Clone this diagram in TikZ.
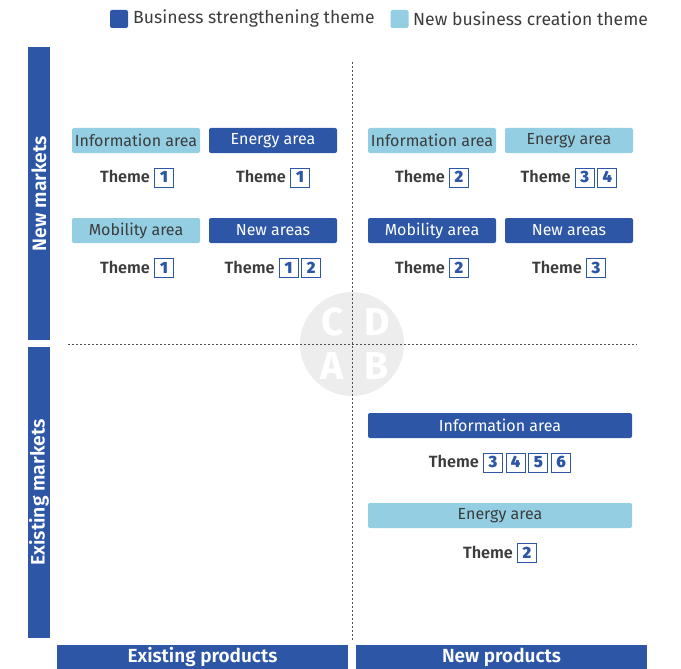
\documentclass[tikz,border=0pt]{standalone}
\usepackage{fontspec}
\setmainfont{Fira Sans}
\newfontfamily\semib{Fira Sans SemiBold}
\newfontfamily\medf{Fira Sans Medium}
\definecolor{dkblue}{HTML}{2D57A6}
\definecolor{ltblue}{HTML}{93CEE2}
\definecolor{txtgray}{HTML}{3C3C3C}
\definecolor{wmgray}{HTML}{EDEDED}
\newcommand{\nbx}[1]{\setlength{\fboxsep}{0pt}\setlength{\fboxrule}{1pt}\fcolorbox{dkblue}{white}{\makebox[18pt][c]{\rule[-4pt]{0pt}{18pt}\bfseries\color{dkblue}#1}}}
\tikzset{
  darea/.style={fill=dkblue, rounded corners=2pt, minimum width=128pt, minimum height=25pt, inner sep=0pt, text=white, font=\fontsize{16}{18}\selectfont},
  larea/.style={fill=ltblue, rounded corners=2pt, minimum width=128pt, minimum height=25pt, inner sep=0pt, text=txtgray, font=\fontsize{16}{18}\selectfont},
  themeline/.style={inner sep=0pt, text=txtgray, font=\fontsize{16.3}{18}\selectfont\semib},
  sidebar/.style={fill=dkblue, inner sep=0pt, text=white, font=\fontsize{19}{20}\selectfont\semib},
  vbartext/.style={inner sep=0pt, text=white, font=\fontsize{19.4}{20}\selectfont\semib},
  legtext/.style={inner sep=0pt, anchor=west, text=txtgray, font=\fontsize{17.6}{20}\selectfont},
  legsq/.style={rounded corners=2pt, minimum width=18pt, minimum height=18pt, inner sep=0pt},
  divider/.style={draw=txtgray!90, line width=0.9pt, dash pattern=on 2pt off 2pt},
  wmletter/.style={text=white, inner sep=0pt, font=\fontsize{39}{39}\selectfont\bfseries}
}
\begin{document}
\begin{tikzpicture}[x=1pt,y=-1pt]
\useasboundingbox (0,0) rectangle (681,669);
% legend
\node[legsq, fill=dkblue] (lsq1) at (119,19) {};
\node[legtext] (lt1) at (133,19) {Business strengthening theme};
\node[legsq, fill=ltblue] (lsq2) at (399.5,19) {};
\node[legtext] (lt2) at (413,19) {New business creation theme};
% watermark
\node[circle, fill=wmgray, minimum size=104pt, inner sep=0pt] (wm) at (352,344) {};
\node[wmletter] (wc) at (332.5,322) {C};
\node[wmletter] (wd) at (377,322) {D};
\node[wmletter] (wa) at (332.5,366) {A};
\node[wmletter] (wb) at (377,366) {B};
% dividers
\coordinate (vtop) at (352,62);
\coordinate (vbot) at (352,640);
\coordinate (hl) at (68,344);
\coordinate (hr) at (637,344);
\draw[divider] (vtop) -- (vbot);
\draw[divider] (hl) -- (hr);
% side bars
\node[sidebar, minimum width=22pt, minimum height=293pt] (nm) at (39,193.5) {};
\node[vbartext, rotate=90] (nmt) at (nm.center) {New markets};
\node[sidebar, minimum width=22pt, minimum height=291pt] (em) at (39,492.5) {};
\node[vbartext, rotate=90] (emt) at (em.center) {Existing markets};
\node[sidebar, minimum width=291pt, minimum height=24pt] (ep) at (202.5,657) {Existing products};
\node[sidebar, minimum width=291pt, minimum height=24pt] (np) at (501.5,657) {New products};
% top-left quadrant
\node[larea] (a1) at (136,140.5) {Information area};
\node[darea] (a2) at (273,140.5) {Energy area};
\node[themeline] (t1) at (137,177.5) {Theme \nbx{1}};
\node[themeline] (t2) at (273,177.5) {Theme \nbx{1}};
\node[larea] (a3) at (136,230.5) {Mobility area};
\node[darea] (a4) at (273,230.5) {New areas};
\node[themeline] (t3) at (137,268) {Theme \nbx{1}};
\node[themeline] (t4) at (273,268) {Theme \nbx{1}\,\nbx{2}};
% top-right quadrant
\node[larea] (b1) at (432,140.5) {Information area};
\node[larea] (b2) at (569,140.5) {Energy area};
\node[themeline] (u1) at (432,177.5) {Theme \nbx{2}};
\node[themeline] (u2) at (569,177.5) {Theme \nbx{3}\,\nbx{4}};
\node[darea] (b3) at (432,230.5) {Mobility area};
\node[darea] (b4) at (569,230.5) {New areas};
\node[themeline] (u3) at (432,268) {Theme \nbx{2}};
\node[themeline] (u4) at (569,268) {Theme \nbx{3}};
% bottom-right quadrant
\node[darea, minimum width=264pt] (c1) at (500,425.5) {Information area};
\node[themeline] (v1) at (500,462.5) {Theme \nbx{3}\,\nbx{4}\,\nbx{5}\,\nbx{6}};
\node[larea, minimum width=264pt] (c2) at (500,515.5) {Energy area};
\node[themeline] (v2) at (500,553) {Theme \nbx{2}};
\end{tikzpicture}
\end{document}
